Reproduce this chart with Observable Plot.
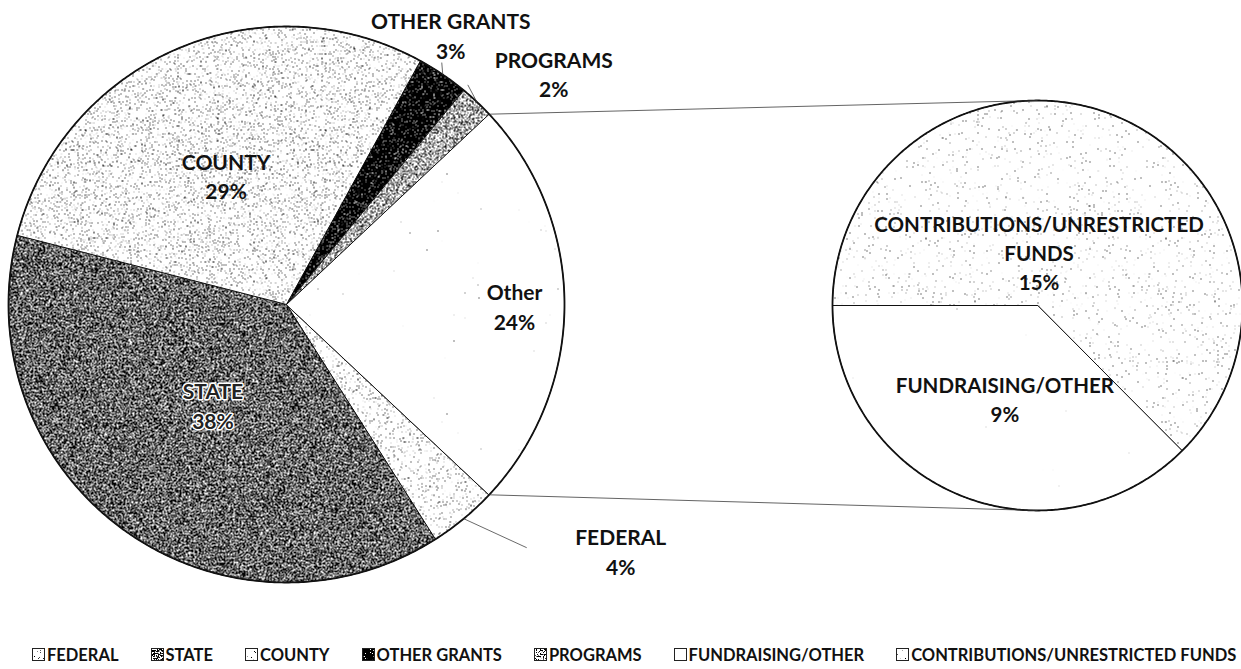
<!DOCTYPE html>
<html>
<head>
<meta charset="utf-8">
<script src="https://cdn.jsdelivr.net/npm/d3@7"></script>
<script src="https://cdn.jsdelivr.net/npm/@observablehq/plot@0.6"></script>
<style>
  body { margin: 0; background: #fff; }
  #chart { width: 1241px; position: relative; }
  #chart svg { display: block; }
  .legend { display: flex; align-items: center; height: 29px; padding-left: 32px; gap: 32px;
            font-family: Lato, "Open Sans", sans-serif; font-weight: 700; font-size: 16.5px; color: #111; white-space: nowrap; }
  .legend .item { display: flex; align-items: center; gap: 2px; }
  .legend svg { display: block; }
</style>
</head>
<body>
<svg id="defs" width="0" height="0" style="position:absolute"><defs id="patterns"></defs></svg>
<div id="chart"></div>
<script>
// ---------------- data ----------------
const mainCategories = ["FEDERAL", "STATE", "COUNTY", "OTHER GRANTS", "PROGRAMS", "Other"];
const mainValues = [4, 38, 29, 3, 2, 24];
const subCategories = ["FUNDRAISING/OTHER", "CONTRIBUTIONS/UNRESTRICTED FUNDS"];
const subValues = [9, 15];
const subLabelText = ["FUNDRAISING/OTHER", "CONTRIBUTIONS/UNRESTRICTED\nFUNDS"];
const legendLabels = ["FEDERAL", "STATE", "COUNTY", "OTHER GRANTS", "PROGRAMS", "FUNDRAISING/OTHER", "CONTRIBUTIONS/UNRESTRICTED FUNDS"];

// ---------------- style / layout ----------------
const W = 1241, H = 640;
const FONT = "Lato, 'Open Sans', sans-serif";
const geoMain = {cx: 286, cy: 304, r: 278};
const geoSub = {cx: 1037, cy: 305, r: 205};
// stipple textures: [threshold, seed]
const texture = {
  "FEDERAL": [0.68, 3], "STATE": [0.45, 5], "COUNTY": [0.655, 7], "OTHER GRANTS": [0.30, 11],
  "PROGRAMS": [0.52, 13], "Other": [0.84, 17], "FUNDRAISING/OTHER": [0.86, 19],
  "CONTRIBUTIONS/UNRESTRICTED FUNDS": [0.74, 23]
};
const pid = c => "p" + c.replace(/[^A-Za-z]/g, "");
// label placement: polar at slice mid-angle (k * r) plus offset
const mainLabelPos = {
  "FEDERAL": {k: 1, dx: 157, dy: 32, leader: {dx: -94, dy: -3}},
  "STATE": {k: 0.45, dx: 0, dy: -1, halo: true},
  "COUNTY": {k: 0.52, dx: -3, dy: 3},
  "OTHER GRANTS": {k: 1, dx: 8, dy: -40, leader: {dx: -9, dy: 28}},
  "PROGRAMS": {k: 1, dx: 77, dy: -29, leader: {dx: -86, dy: 12}},
  "Other": {k: 0.82, dx: 0, dy: 1}
};
const subLabelPos = [{k: 0.48, dx: 5, dy: 2}, {k: 0.3, dx: -22, dy: 3}];

// ---------------- textures ----------------
{
  const defs = document.getElementById("patterns");
  let s = "";
  for (const [c, [t, seed]] of Object.entries(texture)) {
    const S = 18;
    s += `<filter id="f${pid(c)}" x="0" y="0" width="1" height="1" color-interpolation-filters="sRGB">
      <feTurbulence type="fractalNoise" baseFrequency="0.75" numOctaves="2" seed="${seed}" stitchTiles="stitch"/>
      <feColorMatrix type="matrix" values="0 0 0 0 0  0 0 0 0 0  0 0 0 0 0  ${S} 0 0 0 ${-S * t}"/>
    </filter>
    <pattern id="${pid(c)}" patternUnits="userSpaceOnUse" width="240" height="240">
      <rect width="240" height="240" fill="#fff"/>
      <rect width="240" height="240" filter="url(#f${pid(c)})"/>
    </pattern>`;
  }
  defs.innerHTML = s;
}

// ---------------- geometry from data ----------------
const TAU = Math.PI * 2;
const mainTotal = d3.sum(mainValues);
const before = d3.sum(mainValues.slice(0, -1));
const mainStart = Math.PI / 2 - TAU * (before + mainValues[mainValues.length - 1] / 2) / mainTotal;
const mainArcs = d3.pie().sort(null).startAngle(mainStart).endAngle(mainStart + TAU)(mainValues);
const subTotal = d3.sum(subValues);
const subStart = 3 * Math.PI / 2 - TAU * subValues[0] / subTotal;
const subArcs = d3.pie().sort(null).startAngle(subStart).endAngle(subStart + TAU)(subValues);

const polar = (g, a, rad) => ({x: g.cx + rad * Math.sin(a), y: g.cy - rad * Math.cos(a)});
function slicePts(g, a0, a1) {
  const pts = [{x: g.cx, y: g.cy}];
  const n = Math.max(2, Math.ceil((a1 - a0) / (Math.PI / 360)));
  for (let i = 0; i <= n; i++) pts.push(polar(g, a0 + (a1 - a0) * i / n, g.r));
  return pts;
}
const circlePts = g => d3.range(0, 721).map(i => polar(g, i / 720 * TAU, g.r));

const marks = [];
mainArcs.forEach((a, i) => {
  marks.push(Plot.line(slicePts(geoMain, a.startAngle, a.endAngle),
    {x: "x", y: "y", curve: "linear-closed", fill: `url(#${pid(mainCategories[i])})`, stroke: "#111", strokeWidth: 1}));
});
subArcs.forEach((a, i) => {
  marks.push(Plot.line(slicePts(geoSub, a.startAngle, a.endAngle),
    {x: "x", y: "y", curve: "linear-closed", fill: `url(#${pid(subCategories[i])})`, stroke: "#111", strokeWidth: 1}));
});
marks.push(Plot.line(circlePts(geoMain), {x: "x", y: "y", curve: "linear-closed", stroke: "#111", strokeWidth: 1.8}));
marks.push(Plot.line(circlePts(geoSub), {x: "x", y: "y", curve: "linear-closed", stroke: "#111", strokeWidth: 1.8}));

// connector lines from the "Other" slice to the secondary pie
const otherArc = mainArcs[mainArcs.length - 1];
const p0 = polar(geoMain, otherArc.startAngle, geoMain.r), p1 = polar(geoMain, otherArc.endAngle, geoMain.r);
const q0 = polar(geoSub, 0, geoSub.r), q1 = polar(geoSub, Math.PI, geoSub.r);
marks.push(Plot.link([{x1: p0.x, y1: p0.y, x2: q0.x, y2: q0.y}, {x1: p1.x, y1: p1.y, x2: q1.x, y2: q1.y}],
  {x1: "x1", y1: "y1", x2: "x2", y2: "y2", stroke: "#333", strokeWidth: 0.9, strokeOpacity: 0.85}));

// labels
const mainLabels = [], leaders = [];
mainArcs.forEach((a, i) => {
  const c = mainCategories[i], L = mainLabelPos[c];
  const mid = (a.startAngle + a.endAngle) / 2;
  const p = polar(geoMain, mid, L.k * geoMain.r);
  const pos = {x: p.x + L.dx, y: p.y + L.dy, text: `${c}\n${mainValues[i]}%`, halo: !!L.halo};
  mainLabels.push(pos);
  if (L.leader) {
    const e = polar(geoMain, mid, geoMain.r);
    leaders.push({x1: e.x, y1: e.y, x2: pos.x + L.leader.dx, y2: pos.y + L.leader.dy});
  }
});
const subLabels = subArcs.map((a, i) => {
  const L = subLabelPos[i], mid = (a.startAngle + a.endAngle) / 2;
  const p = polar(geoSub, mid, L.k * geoSub.r);
  return {x: p.x + L.dx, y: p.y + L.dy, text: `${subLabelText[i]}\n${subValues[i]}%`};
});
marks.push(Plot.link(leaders, {x1: "x1", y1: "y1", x2: "x2", y2: "y2", stroke: "#444", strokeWidth: 0.8}));
const textOpts = {x: "x", y: "y", text: "text", fontSize: 21, fontWeight: "bold", fontFamily: FONT,
  lineHeight: 1.4, textAnchor: "middle", lineAnchor: "middle", fill: "#111"};
marks.push(Plot.text(mainLabels.filter(d => !d.halo), textOpts));
marks.push(Plot.text(mainLabels.filter(d => d.halo), {...textOpts, fill: "#222", stroke: "#fff", strokeWidth: 3}));
marks.push(Plot.text(subLabels, {...textOpts, fontSize: 20.5}));

const chart = Plot.plot({
  width: W, height: H, margin: 0,
  x: {domain: [0, W], range: [0, W], axis: null},
  y: {domain: [0, H], range: [0, H], axis: null},
  style: {background: "#fff", overflow: "visible"},
  marks
});
document.getElementById("chart").appendChild(chart);

// legend below
const legend = document.createElement("div");
legend.className = "legend";
legend.innerHTML = legendLabels.map(l =>
  `<span class="item"><svg width="13" height="13"><rect x="0.5" y="0.5" width="12" height="12" fill="url(#${pid(l)})" stroke="#222" stroke-width="1"/></svg><span>${l}</span></span>`
).join("");
document.getElementById("chart").appendChild(legend);
</script>
</body>
</html>
